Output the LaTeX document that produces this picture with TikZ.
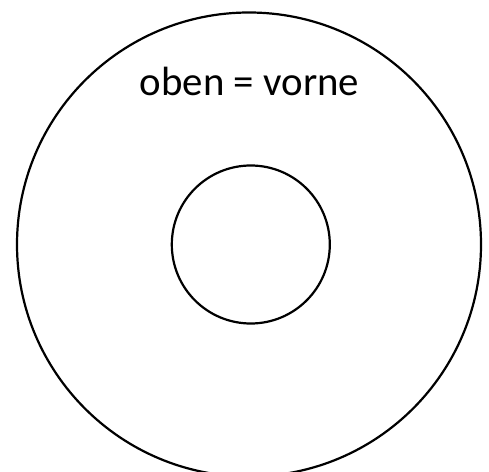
\documentclass[tikz,border=0pt]{standalone}
\usepackage{fontspec}
\setmainfont{Carlito}
\begin{document}
\begin{tikzpicture}[x=1bp,y=-1bp,
  ring/.style={circle,draw=black,line width=2.2bp,inner sep=0pt,minimum size=#1}]
\useasboundingbox[fill=white] (0,0) rectangle (489,472);
\node[ring=464bp] (outer) at (249,244.5) {};
\node[ring=158bp] (inner) at (250.8,244.5) {};
\node[font=\fontsize{41}{48}\selectfont,anchor=base,inner sep=0pt] (label) at (249.5,95.5) {oben = vorne};
\end{tikzpicture}
\end{document}
